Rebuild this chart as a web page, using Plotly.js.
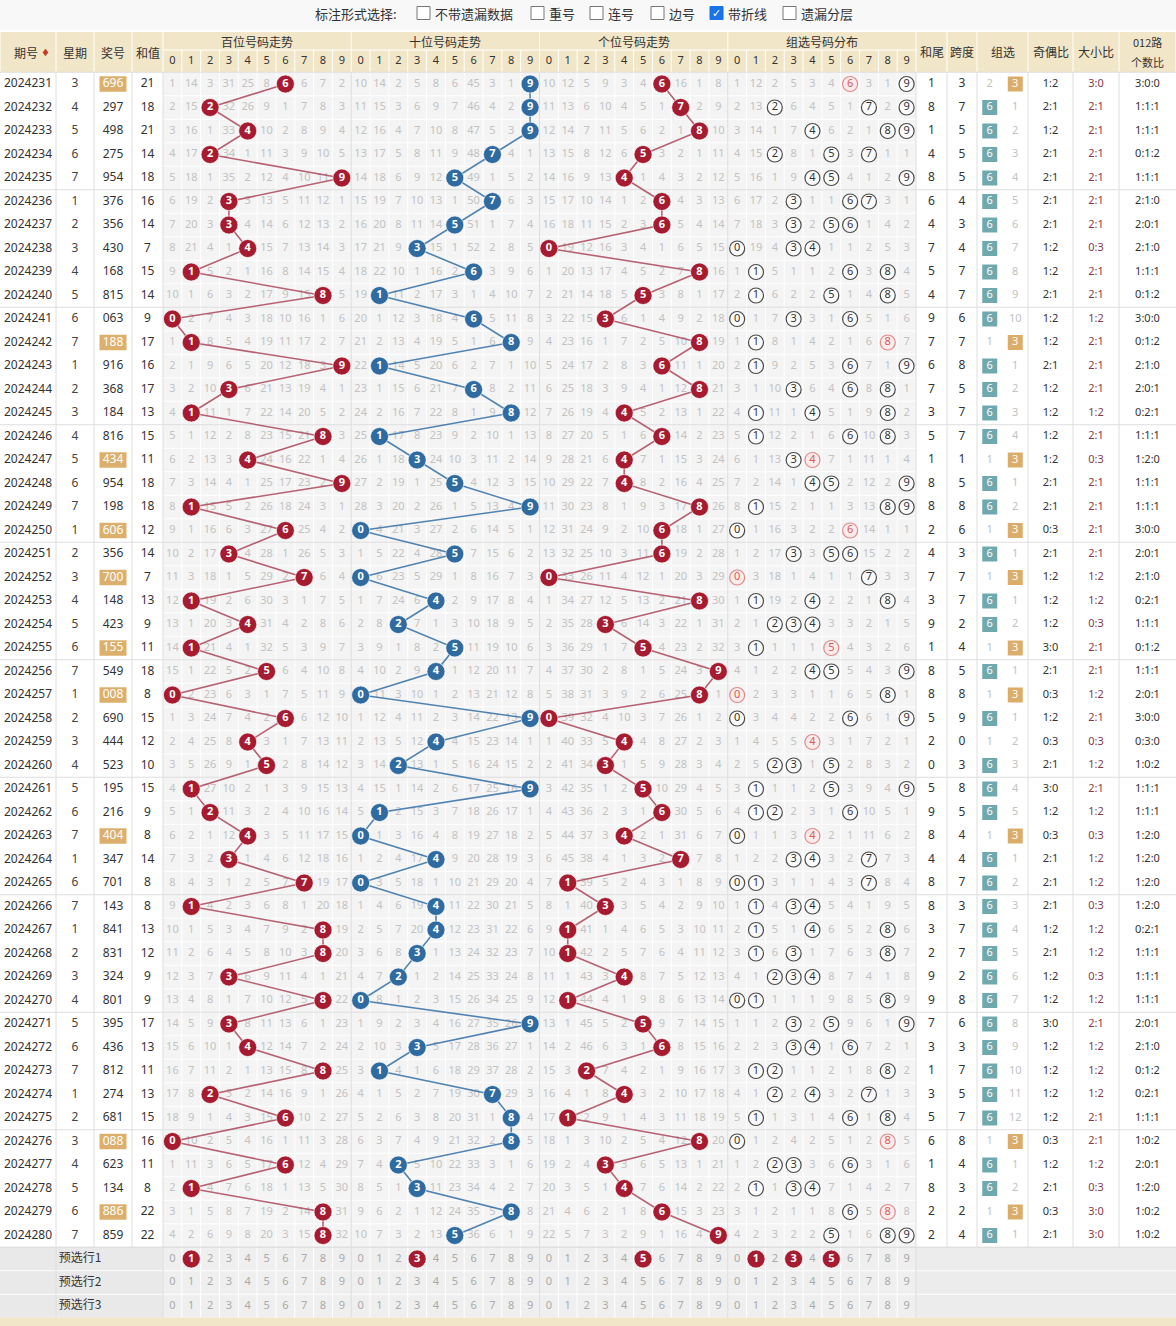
<!DOCTYPE html>
<html>
<head>
<meta charset="utf-8">
<script src="https://cdn.plot.ly/plotly-3.0.1.min.js"></script>
<style>
  html, body { margin: 0; padding: 0; background: #fff; }
  #chart { width: 1176px; height: 1326px; }
</style>
</head>
<body>
<div id="chart"></div>
<script>
var periods = [2024231, 2024232, 2024233, 2024234, 2024235, 2024236, 2024237, 2024238, 2024239, 2024240,
               2024241, 2024242, 2024243, 2024244, 2024245, 2024246, 2024247, 2024248, 2024249, 2024250,
               2024251, 2024252, 2024253, 2024254, 2024255, 2024256, 2024257, 2024258, 2024259, 2024260,
               2024261, 2024262, 2024263, 2024264, 2024265, 2024266, 2024267, 2024268, 2024269, 2024270,
               2024271, 2024272, 2024273, 2024274, 2024275, 2024276, 2024277, 2024278, 2024279, 2024280];
var weekdays = [3, 4, 5, 6, 7, 1, 2, 3, 4, 5, 6, 7, 1, 2, 3, 4, 5, 6, 7, 1, 2, 3, 4, 5, 6,
                7, 1, 2, 3, 4, 5, 6, 7, 1, 6, 7, 1, 2, 3, 4, 5, 6, 7, 1, 2, 3, 4, 5, 6, 7];
var draws = ["696", "297", "498", "275", "954", "376", "356", "430", "168", "815",
             "063", "188", "916", "368", "184", "816", "434", "954", "198", "606",
             "356", "700", "148", "423", "155", "549", "008", "690", "444", "523",
             "195", "216", "404", "347", "701", "143", "841", "831", "324", "801",
             "395", "436", "812", "274", "681", "088", "623", "134", "886", "859"];
var sums = [21, 18, 21, 14, 18, 16, 14, 7, 15, 14, 9, 17, 16, 17, 13, 15, 11, 18, 18, 12, 14, 7, 13, 9, 11,
            18, 8, 15, 12, 10, 15, 9, 8, 14, 8, 8, 13, 12, 9, 9, 17, 13, 11, 13, 15, 16, 11, 8, 22, 22];

// omission counts shown in the first row (0 = drawn)
var baiStart = [1, 14, 3, 31, 25, 8, 0, 6, 7, 2];
var shiStart = [10, 14, 2, 5, 8, 6, 45, 3, 1, 0];
var geStart  = [10, 12, 5, 9, 3, 4, 0, 16, 1, 8];
var zuStart  = [1, 12, 2, 5, 3, 4, 0, 3, 1, 0];
var groupStart = [2, 0];   // 组六, 组三

var sectionTitles = ["百位号码走势", "十位号码走势", "个位号码走势", "组选号码分布"];
var preLabels = ["预选行1", "预选行2", "预选行3"];
var preBai = [[1], [], []];
var preShi = [[3], [], []];
var preGe  = [[5], [], []];
var preZu  = [[1, 3, 5], [], []];
var options = ["不带遗漏数据", "重号", "连号", "边号", "带折线", "遗漏分层"];
var optionChecked = [false, false, false, false, true, false];

// ---- layout geometry ----
var ROW0 = 84, ROWH = 23.5;
function py(px) { return (px - ROW0) / ROWH; }
var SEC0 = 163, SECW = 188.25, CELLW = SECW / 10;
function cx(sec, d) { return SEC0 + SECW * sec + CELLW * (d + 0.5); }
var leftEdges = [0, 56, 94, 132, 163];
var rightEdges = [916, 947, 977, 1028, 1073, 1119, 1176];
function mid(a, b) { return (a + b) / 2; }

var FONT = "Noto Sans, sans-serif";
var CJK = "Noto Sans CJK SC, sans-serif";
var RED = "#a61b30", BLUE = "#2f6ba0";

var N = draws.length;
var rows = draws.map(function (_, i) { return i; });
var digs = draws.map(function (s) { return s.split("").map(Number); });
var bai = digs.map(function (d) { return d[0]; });
var shi = digs.map(function (d) { return d[1]; });
var ge = digs.map(function (d) { return d[2]; });

function omission(start, hit) {
  var out = [], cur = start.slice();
  for (var i = 0; i < N; i++) {
    if (i > 0) cur = cur.map(function (v, k) { return hit(i, k) ? 0 : v + 1; });
    out.push(cur.slice());
  }
  return out;
}
var omBai = omission(baiStart, function (i, d) { return bai[i] === d; });
var omShi = omission(shiStart, function (i, d) { return shi[i] === d; });
var omGe  = omission(geStart,  function (i, d) { return ge[i] === d; });
var omZu  = omission(zuStart,  function (i, d) { return digs[i].indexOf(d) >= 0; });
function distinct(i) { return digs[i].filter(function (v, k, a) { return a.indexOf(v) === k; }).length; }
var omGroup = omission(groupStart, function (i, k) { return k === 0 ? distinct(i) === 3 : distinct(i) === 2; });

// ---- shapes: backgrounds ----
var shapes = [];
function rect(x0, x1, y0, y1, fill) {
  shapes.push({type: "rect", xref: "x", yref: "y", x0: x0, x1: x1, y0: y0, y1: y1,
               fillcolor: fill, line: {width: 0}, layer: "below"});
}
rect(0, 1176, py(0), py(30), "#f8f8f8");
rect(0, 1176, py(32), -0.5, "#f2e6c8");
rect(SEC0, 916, -0.5, N - 0.5, "#f4f4f4");
rect(0, 163, N - 0.5, N + 2.5, "#e9e9e9");
rect(163, 916, N - 0.5, N + 2.5, "#efefef");
rect(916, 1176, N - 0.5, N + 2.5, "#ececec");
rect(0, 1176, N + 2.5, N + 3.6, "#f2e6c8");

// 组三 draws get a tan box behind the number
rows.forEach(function (i) {
  if (distinct(i) === 2) {
    var c = mid(leftEdges[2], leftEdges[3]);
    shapes.push({type: "rect", xref: "x", yref: "y", x0: c - 13.5, x1: c + 13.5, y0: i - 0.33, y1: i + 0.33,
                 fillcolor: "#dcb06c", line: {width: 0}, layer: "below"});
  }
});

// ---- grid lines ----
function segTrace(segs, color, width) {
  var x = [], y = [];
  segs.forEach(function (s) { x.push(s[0], s[2], null); y.push(s[1], s[3], null); });
  return {type: "scatter", mode: "lines", x: x, y: y, hoverinfo: "skip", showlegend: false,
          line: {color: color, width: width}};
}
var white = [], gray = [];
for (var s = 0; s < 4; s++) {
  for (var d = 1; d < 10; d++) {
    var xv = SEC0 + SECW * s + CELLW * d;
    white.push([xv, py(50), xv, N + 2.5]);
  }
}
for (var r = 0; r < N; r++) {
  if ((r + 1) % 5 !== 0) white.push([SEC0, r + 0.5, 916, r + 0.5]);
}
white.push([0, N + 0.5, 1176, N + 0.5], [0, N + 1.5, 1176, N + 1.5]);
white.push([SEC0, py(50), 916, py(50)]);
leftEdges.concat(rightEdges).forEach(function (xv) { white.push([xv, py(32), xv, -0.5]); });
for (var s2 = 1; s2 < 4; s2++) white.push([SEC0 + SECW * s2, py(32), SEC0 + SECW * s2, -0.5]);
for (var g = -1; g < N; g += 5) gray.push([0, g + 0.5 + (g < 0 ? 0 : 0), 1176, g + 0.5]);
gray.push([0, N - 0.5, 1176, N - 0.5]);
leftEdges.slice(1).concat(rightEdges.slice(0, -1)).forEach(function (xv) { gray.push([xv, -0.5, xv, N - 0.5]); });
for (var s3 = 1; s3 < 4; s3++) gray.push([SEC0 + SECW * s3, -0.5, SEC0 + SECW * s3, N + 2.5]);
gray.push([56, N - 0.5, 56, N + 2.5], [163, N - 0.5, 163, N + 2.5], [916, N - 0.5, 916, N + 2.5]);

var traces = [segTrace(white, "#ffffff", 1), segTrace(gray, "#dedede", 1)];

function textTrace(x, y, text, color, size, family, weight) {
  return {type: "scatter", mode: "text", x: x, y: y, text: text, hoverinfo: "skip", showlegend: false,
          textposition: "middle center",
          textfont: {color: color, size: size, family: family || FONT, weight: weight || "normal"}};
}
function colMid(edges, k) { return rows.map(function () { return mid(edges[k], edges[k + 1]); }); }

// left block
traces.push(textTrace(colMid(leftEdges, 0), rows, periods.map(String), "#333", 12));
traces.push(textTrace(colMid(leftEdges, 1), rows, weekdays.map(String), "#444", 12));
traces.push(textTrace(colMid(leftEdges, 2), rows, draws,
  rows.map(function (i) { return distinct(i) === 2 ? "#ffffff" : "#333"; }), 12));
traces.push(textTrace(colMid(leftEdges, 3), rows, sums.map(String), "#333", 12));

// omission numbers in the four sections
[omBai, omShi, omGe, omZu].forEach(function (om, sec) {
  var x = [], y = [], t = [];
  rows.forEach(function (i) {
    for (var d = 0; d < 10; d++) if (om[i][d] > 0) { x.push(cx(sec, d)); y.push(i); t.push(String(om[i][d])); }
  });
  traces.push(textTrace(x, y, t, "#c2c2c2", 11));
});

// trend lines + balls
function trend(vals, sec, color, lineColor) {
  traces.push({type: "scatter", mode: "lines", x: vals.map(function (v) { return cx(sec, v); }), y: rows,
               hoverinfo: "skip", showlegend: false, line: {color: lineColor, width: 1.6}});
  traces.push({type: "scatter", mode: "markers+text", x: vals.map(function (v) { return cx(sec, v); }), y: rows,
               text: vals.map(String), textposition: "middle center", hoverinfo: "skip", showlegend: false,
               marker: {size: 18, color: color, line: {color: "rgba(255,255,255,0.6)", width: 1}},
               textfont: {color: "#fff", size: 11, family: FONT, weight: "bold"}});
}
trend(bai, 0, RED, "rgba(165,60,80,0.8)");
trend(shi, 1, BLUE, "rgba(50,110,165,0.85)");
trend(ge, 2, RED, "rgba(165,60,80,0.8)");

// 组选 distribution circles
(function () {
  var px = [], pyy = [], pt = [], qx = [], qy = [], qt = [];
  rows.forEach(function (i) {
    for (var d = 0; d < 10; d++) {
      var n = digs[i].filter(function (v) { return v === d; }).length;
      if (n === 1) { px.push(cx(3, d)); pyy.push(i); pt.push(String(d)); }
      if (n > 1) { qx.push(cx(3, d)); qy.push(i); qt.push(String(d)); }
    }
  });
  traces.push({type: "scatter", mode: "markers+text", x: px, y: pyy, text: pt, hoverinfo: "skip", showlegend: false,
               marker: {size: 15, color: "#fbfbfb", line: {color: "#4a4a4a", width: 1.2}},
               textfont: {color: "#333", size: 11, family: FONT}});
  traces.push({type: "scatter", mode: "markers+text", x: qx, y: qy, text: qt, hoverinfo: "skip", showlegend: false,
               marker: {size: 15, color: "#fcebeb", line: {color: "#e08a8a", width: 1.2}},
               textfont: {color: "#d45c5c", size: 11, family: FONT}});
})();

// right block
function ratio(f) {
  return rows.map(function (i) { return f(digs[i]); });
}
var hewei = sums.map(function (v) { return String(v % 10); });
var kuadu = ratio(function (d) { return String(Math.max.apply(null, d) - Math.min.apply(null, d)); });
var oddEven = ratio(function (d) { var o = d.filter(function (v) { return v % 2; }).length; return o + ":" + (3 - o); });
var bigSmall = ratio(function (d) { var b = d.filter(function (v) { return v >= 5; }).length; return b + ":" + (3 - b); });
var road012 = ratio(function (d) {
  return [0, 1, 2].map(function (k) { return d.filter(function (v) { return v % 3 === k; }).length; }).join(":");
});
traces.push(textTrace(colMid(rightEdges, 0), rows, hewei, "#333", 12));
traces.push(textTrace(colMid(rightEdges, 1), rows, kuadu, "#333", 12));
traces.push(textTrace(colMid(rightEdges, 3), rows, oddEven, "#333", 11));
traces.push(textTrace(colMid(rightEdges, 4), rows, bigSmall, "#8a3a4c", 11));
traces.push(textTrace(colMid(rightEdges, 5), rows, road012, "#333", 11));

// 组选 (组六 / 组三) column
(function () {
  var sub = [977 + 51 * 0.25, 977 + 51 * 0.75];
  var boxColor = ["#6fa9ad", "#dcad68"], boxText = ["6", "3"];
  for (var k = 0; k < 2; k++) {
    var hx = [], hy = [], ht = [], ox = [], oy = [], ot = [];
    rows.forEach(function (i) {
      if (omGroup[i][k] === 0) { hx.push(sub[k]); hy.push(i); ht.push(boxText[k]); }
      else { ox.push(sub[k]); oy.push(i); ot.push(String(omGroup[i][k])); }
    });
    traces.push({type: "scatter", mode: "markers+text", x: hx, y: hy, text: ht, hoverinfo: "skip", showlegend: false,
                 marker: {symbol: "square", size: 15, color: boxColor[k]},
                 textfont: {color: "#fff", size: 11, family: FONT}});
    traces.push(textTrace(ox, oy, ot, "#c2c2c2", 11));
  }
})();

// header digits and footer preselect rows
(function () {
  var hx = [], hy = [], ht = [];
  for (var s = 0; s < 4; s++) for (var d = 0; d < 10; d++) { hx.push(cx(s, d)); hy.push(py(61)); ht.push(String(d)); }
  traces.push(textTrace(hx, hy, ht, "#333", 11));
  var fx = [], fy = [], ft = [], bx = [], by = [], bt = [];
  var pre = [preBai, preShi, preGe, preZu];
  for (var r = 0; r < 3; r++) {
    for (var s2 = 0; s2 < 4; s2++) for (var d2 = 0; d2 < 10; d2++) {
      if (pre[s2][r].indexOf(d2) >= 0) { bx.push(cx(s2, d2)); by.push(N + r); bt.push(String(d2)); }
      else { fx.push(cx(s2, d2)); fy.push(N + r); ft.push(String(d2)); }
    }
  }
  traces.push(textTrace(fx, fy, ft, "#a9a9a9", 11));
  traces.push({type: "scatter", mode: "markers+text", x: bx, y: by, text: bt, hoverinfo: "skip", showlegend: false,
               marker: {size: 18, color: RED, line: {color: "rgba(255,255,255,0.6)", width: 1}},
               textfont: {color: "#fff", size: 11, family: FONT, weight: "bold"}});
  traces.push(textTrace([80, 80, 80], [N, N + 1, N + 2], preLabels, "#333", 12, CJK));
})();

// ---- annotations: headers and option bar ----
var ann = [];
function label(x, y, text, size, color, anchor, family) {
  ann.push({x: x, y: y, xref: "x", yref: "y", text: text, showarrow: false, xanchor: anchor || "center",
            yanchor: "middle", font: {size: size, color: color || "#333", family: family || CJK}});
}
label(26, py(52), "期号", 12);
label(45, py(52), "♦", 10, "#c0392b", "center", "DejaVu Sans");
label(75, py(52), "星期", 12);
label(113, py(52), "奖号", 12);
label(147.5, py(52), "和值", 12);
sectionTitles.forEach(function (t, s) { label(SEC0 + SECW * (s + 0.5), py(41), t, 12); });
label(mid(916, 947), py(51), "和尾", 12);
label(mid(947, 977), py(51), "跨度", 12);
label(mid(977, 1028), py(51), "组选", 12);
label(mid(1028, 1073), py(51), "奇偶比", 12);
label(mid(1073, 1119), py(51), "大小比", 12);
label(mid(1119, 1176), py(42), "012路", 11);
label(mid(1119, 1176), py(62), "个数比", 11);

label(356, py(13), "标注形式选择:", 13, "#333");
var boxX = [417, 531, 590, 651, 710, 783];
options.forEach(function (t, k) {
  shapes.push({type: "rect", xref: "x", yref: "y", x0: boxX[k], x1: boxX[k] + 13, y0: py(6.5), y1: py(19.5),
               fillcolor: optionChecked[k] ? "#1a73e8" : "#ffffff",
               line: {color: optionChecked[k] ? "#1a73e8" : "#767676", width: 1}});
  if (optionChecked[k]) label(boxX[k] + 6.5, py(13), "✓", 11, "#ffffff", "center", "DejaVu Sans");
  label(boxX[k] + 16, py(13), t, 13, "#333", "left");
});

var layout = {
  width: 1176, height: 1326,
  margin: {l: 0, r: 0, t: 0, b: 0},
  paper_bgcolor: "#ffffff", plot_bgcolor: "#ffffff",
  showlegend: false,
  xaxis: {range: [0, 1176], visible: false, fixedrange: true},
  yaxis: {range: [py(1326), py(0)], visible: false, fixedrange: true},
  shapes: shapes,
  annotations: ann,
  hovermode: false
};

Plotly.newPlot("chart", traces, layout, {staticPlot: true, displayModeBar: false});
</script>
</body>
</html>
